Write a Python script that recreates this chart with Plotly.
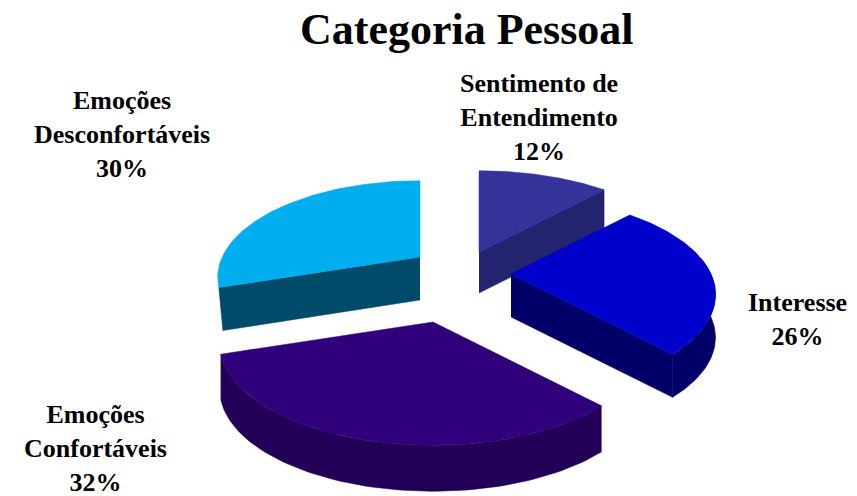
import numpy as np
import plotly.graph_objects as go

# --- data ---
categories = ["Sentimento de<br>Entendimento", "Interesse", "Emoções<br>Confortáveis", "Emoções<br>Desconfortáveis"]
values = [12, 26, 32, 30]
title_text = "Categoria Pessoal"

# --- style / layout ---
top_colors = ["#333399", "#0000cc", "#30007c", "#00aeef"]
side_colors = ["#23236f", "#000068", "#220058", "#004a6a"]
apex_x = [479, 511, 433, 420]
apex_y = [252, 274, 322, 257]
radius_scale = [0.98, 0.93, 0.97, 0.92]
depths = [41, 43, 46, 43]
label_x = [539, 797, 95, 122]
label_y = [117, 319, 448, 134]
draw_order = [0, 3, 2, 1]

RX, RY, K = 215.0, 100.4, 0.21
angles = np.cumsum([0] + values) / sum(values) * 2 * np.pi


def project(theta, cx, cy, s):
    u, v = np.sin(theta), np.cos(theta)
    d = 1 + K * v
    return cx + s * RX * u / d, cy - s * RY * v / d


fig = go.Figure()


def poly(x, y, color):
    fig.add_trace(go.Scatter(
        x=list(x), y=list(y), mode="lines", fill="toself", fillcolor=color,
        line=dict(color=color, width=0.5), hoverinfo="skip", showlegend=False))


for i in draw_order:
    t = np.linspace(angles[i], angles[i + 1], 80)
    cx, cy, s, h = apex_x[i], apex_y[i], radius_scale[i], depths[i]
    rx, ry = project(t, cx, cy, s)
    # outer rim: only the part facing the viewer
    front = np.cos(t) < 0.18
    if front.any() and i != 3:
        fx, fy = rx[front], ry[front]
        poly(np.r_[fx, fx[::-1]], np.r_[fy, fy[::-1] + h], side_colors[i])
    # radial cut faces visible to the viewer
    if i in (0, 1):  # end edge of right-hand wedges
        poly([cx, rx[-1], rx[-1], cx], [cy, ry[-1], ry[-1] + h, cy + h], side_colors[i])
    if i == 3:  # start edge of left-hand wedge
        poly([cx, rx[0], rx[0] + 4, cx], [cy, ry[0], ry[0] + h, cy + h], side_colors[i])
    poly(np.r_[cx, rx, cx], np.r_[cy, ry, cy], top_colors[i])

for i, name in enumerate(categories):
    fig.add_annotation(
        x=label_x[i], y=label_y[i], text=f"<b>{name}<br>{values[i]}%</b>", showarrow=False,
        xanchor="center", yanchor="middle", align="center",
        font=dict(family="Liberation Serif", size=26, color="#000000"))

fig.add_annotation(
    x=467, y=29, text=f"<b>{title_text}</b>", showarrow=False, xanchor="center", yanchor="middle",
    font=dict(family="Liberation Serif", size=44, color="#000000"))

fig.update_layout(
    width=857, height=496, margin=dict(l=0, r=0, t=0, b=0),
    paper_bgcolor="white", plot_bgcolor="white", showlegend=False,
    xaxis=dict(range=[0, 857], visible=False, fixedrange=True),
    yaxis=dict(range=[496, 0], visible=False, fixedrange=True),
)
fig.write_html("out.html", config=dict(displayModeBar=False),
               post_script="document.body.style.margin='0';document.documentElement.style.overflow='hidden';")
